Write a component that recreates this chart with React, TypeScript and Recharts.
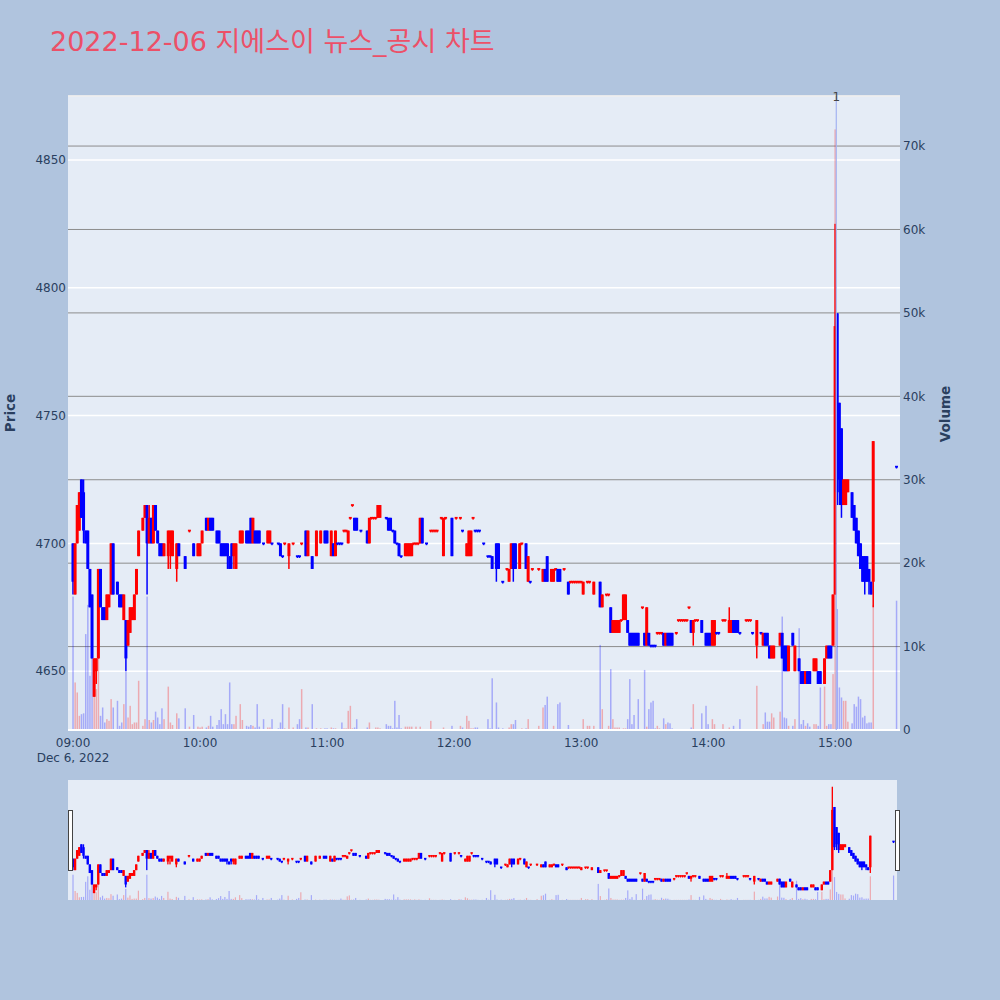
import React from "react";
import {
  ComposedChart,
  Bar,
  XAxis,
  YAxis,
  CartesianGrid,
  ReferenceLine,
} from "recharts";

// one row per traded minute: [minute after 09:00, open, high, low, close, volume]
type Row = [number, number, number, number, number, number];

const hour09: Row[] = [
  [0, 4700, 4700, 4680, 4685, 16000], [1, 4680, 4700, 4680, 4700, 5700],
  [2, 4700, 4715, 4700, 4715, 4500], [3, 4705, 4720, 4705, 4720, 1700],
  [4, 4725, 4725, 4710, 4710, 1900], [5, 4720, 4725, 4700, 4705, 2000],
  [6, 4705, 4705, 4700, 4700, 11500], [7, 4705, 4705, 4690, 4690, 15000],
  [8, 4690, 4690, 4675, 4675, 6500], [9, 4680, 4680, 4655, 4655, 11500],
  [10, 4640, 4655, 4640, 4655, 7000], [11, 4650, 4655, 4645, 4655, 4900],
  [12, 4655, 4690, 4655, 4690, 15500], [13, 4690, 4690, 4675, 4675, 1700],
  [14, 4675, 4675, 4670, 4670, 2700], [15, 4675, 4675, 4670, 4670, 900],
  [16, 4670, 4680, 4670, 4680, 1300], [17, 4675, 4680, 4675, 4680, 1100],
  [18, 4680, 4700, 4680, 4700, 3700], [19, 4700, 4700, 4680, 4680, 2700],
  [21, 4685, 4685, 4680, 4680, 3500], [22, 4680, 4680, 4675, 4675, 500],
  [23, 4680, 4680, 4675, 4675, 900], [24, 4670, 4680, 4670, 4680, 3100],
  [25, 4670, 4670, 4650, 4655, 7000], [26, 4660, 4670, 4660, 4670, 1500],
  [27, 4665, 4675, 4665, 4675, 2900], [28, 4670, 4675, 4670, 4675, 700],
  [29, 4670, 4680, 4670, 4680, 900], [30, 4680, 4690, 4680, 4690, 900],
  [31, 4695, 4705, 4695, 4705, 5900], [33, 4705, 4710, 4705, 4710, 500],
  [34, 4710, 4715, 4710, 4715, 1300], [35, 4715, 4715, 4680, 4700, 16000],
  [36, 4700, 4715, 4700, 4710, 1200], [37, 4710, 4710, 4700, 4700, 900],
  [38, 4700, 4715, 4700, 4715, 1200], [39, 4715, 4715, 4705, 4705, 2200],
  [40, 4705, 4705, 4700, 4700, 1500], [41, 4700, 4700, 4695, 4695, 700],
  [42, 4700, 4700, 4695, 4695, 2600], [43, 4695, 4700, 4695, 4700, 1300],
  [45, 4695, 4705, 4690, 4705, 5200], [46, 4700, 4705, 4690, 4705, 900],
  [47, 4695, 4705, 4695, 4705, 600], [49, 4690, 4700, 4685, 4700, 2000],
  [50, 4700, 4700, 4695, 4695, 1400], [53, 4695, 4695, 4690, 4690, 2600],
  [55, 4705, 4705, 4705, 4705, 400], [57, 4700, 4700, 4695, 4695, 1800],
  [59, 4695, 4700, 4695, 4700, 400],
];

const hour10: Row[] = [
  [60, 4695, 4700, 4695, 4700, 300], [61, 4700, 4705, 4700, 4705, 400],
  [63, 4710, 4710, 4705, 4705, 300], [64, 4705, 4710, 4705, 4710, 500],
  [65, 4710, 4710, 4705, 4705, 1700], [66, 4710, 4710, 4705, 4705, 400],
  [68, 4705, 4705, 4700, 4700, 600], [69, 4705, 4705, 4700, 4700, 1200],
  [70, 4700, 4700, 4695, 4695, 2500], [71, 4700, 4700, 4695, 4695, 700],
  [72, 4700, 4700, 4695, 4695, 1900], [73, 4700, 4700, 4690, 4695, 700],
  [74, 4695, 4695, 4690, 4690, 5700], [75, 4700, 4700, 4690, 4695, 700],
  [76, 4695, 4700, 4690, 4700, 700], [77, 4690, 4700, 4690, 4700, 1700],
  [79, 4700, 4705, 4700, 4705, 3100], [80, 4700, 4705, 4700, 4705, 1200],
  [82, 4705, 4705, 4700, 4700, 500], [83, 4705, 4705, 4700, 4700, 400],
  [84, 4710, 4710, 4700, 4700, 600], [85, 4700, 4710, 4700, 4710, 500],
  [86, 4705, 4705, 4700, 4700, 300], [87, 4705, 4705, 4700, 4700, 3100],
  [88, 4705, 4705, 4700, 4700, 400], [90, 4700, 4700, 4700, 4700, 1300],
  [92, 4700, 4705, 4700, 4705, 300], [93, 4700, 4705, 4700, 4705, 300],
  [94, 4700, 4700, 4700, 4700, 1300], [97, 4700, 4700, 4700, 4700, 200],
  [98, 4700, 4700, 4695, 4695, 900], [99, 4695, 4695, 4695, 4695, 3100],
  [100, 4700, 4700, 4700, 4700, 200], [102, 4695, 4700, 4690, 4700, 2700],
  [104, 4700, 4700, 4700, 4700, 300], [106, 4695, 4695, 4695, 4695, 700],
  [107, 4695, 4695, 4695, 4695, 1300], [108, 4700, 4700, 4700, 4700, 4900],
  [110, 4705, 4705, 4695, 4695, 300], [111, 4695, 4705, 4695, 4705, 300],
  [113, 4695, 4695, 4690, 4690, 3100], [115, 4695, 4705, 4695, 4705, 200],
  [117, 4700, 4705, 4700, 4705, 200], [119, 4705, 4705, 4700, 4700, 200],
];

const hour11: Row[] = [
  [120, 4705, 4705, 4700, 4700, 200], [122, 4695, 4705, 4695, 4705, 300],
  [123, 4700, 4700, 4695, 4695, 200], [124, 4695, 4705, 4695, 4705, 200],
  [125, 4700, 4700, 4700, 4700, 100], [126, 4700, 4700, 4700, 4700, 100],
  [127, 4700, 4700, 4700, 4700, 900], [128, 4705, 4705, 4705, 4705, 200],
  [129, 4705, 4705, 4705, 4705, 200], [130, 4700, 4705, 4700, 4705, 2300],
  [131, 4710, 4710, 4710, 4710, 2900], [132, 4715, 4715, 4715, 4715, 200],
  [133, 4710, 4710, 4705, 4705, 300], [134, 4710, 4710, 4705, 4705, 1300],
  [136, 4705, 4705, 4705, 4705, 100], [139, 4705, 4705, 4700, 4700, 300],
  [140, 4700, 4710, 4700, 4710, 900], [141, 4710, 4710, 4710, 4710, 100],
  [142, 4710, 4710, 4710, 4710, 100], [143, 4710, 4710, 4710, 4710, 300],
  [144, 4710, 4715, 4710, 4715, 300], [145, 4710, 4715, 4710, 4715, 200],
  [148, 4710, 4710, 4710, 4710, 700], [149, 4710, 4710, 4705, 4705, 500],
  [150, 4710, 4710, 4705, 4705, 500], [151, 4705, 4705, 4705, 4705, 200],
  [152, 4705, 4705, 4700, 4700, 3500], [153, 4700, 4700, 4700, 4700, 300],
  [154, 4700, 4700, 4695, 4695, 1800], [155, 4695, 4695, 4695, 4695, 200],
  [157, 4695, 4700, 4695, 4700, 400], [158, 4695, 4700, 4695, 4700, 400],
  [159, 4695, 4700, 4695, 4700, 400], [160, 4695, 4700, 4695, 4700, 400],
  [161, 4700, 4700, 4700, 4700, 100], [162, 4700, 4700, 4700, 4700, 400],
  [163, 4700, 4700, 4700, 4700, 100], [164, 4700, 4710, 4700, 4710, 400],
  [165, 4710, 4710, 4700, 4700, 100], [167, 4700, 4700, 4700, 4700, 100],
  [169, 4705, 4705, 4705, 4705, 1100], [170, 4705, 4705, 4705, 4705, 100],
  [171, 4705, 4705, 4705, 4705, 100], [172, 4705, 4705, 4705, 4705, 100],
  [174, 4710, 4710, 4710, 4710, 100], [175, 4695, 4710, 4695, 4710, 300],
  [176, 4710, 4710, 4710, 4710, 100], [179, 4710, 4710, 4695, 4695, 500],
];

const hour12: Row[] = [
  [181, 4710, 4710, 4710, 4710, 100], [183, 4710, 4710, 4710, 4710, 500],
  [184, 4705, 4705, 4705, 4705, 300], [186, 4695, 4700, 4695, 4700, 1700],
  [187, 4695, 4705, 4695, 4705, 1100], [188, 4695, 4705, 4695, 4705, 200],
  [189, 4710, 4710, 4710, 4710, 200], [190, 4705, 4705, 4705, 4705, 300],
  [191, 4705, 4705, 4705, 4705, 300], [192, 4705, 4705, 4705, 4705, 100],
  [194, 4700, 4700, 4700, 4700, 100], [196, 4695, 4695, 4695, 4695, 1300],
  [197, 4695, 4695, 4695, 4695, 200], [198, 4695, 4695, 4690, 4690, 6200],
  [200, 4700, 4700, 4685, 4690, 3300], [201, 4700, 4700, 4690, 4690, 300],
  [203, 4685, 4685, 4685, 4685, 200], [205, 4690, 4690, 4690, 4690, 100],
  [206, 4685, 4690, 4685, 4690, 300], [207, 4690, 4700, 4690, 4700, 700],
  [208, 4700, 4700, 4685, 4690, 700], [209, 4700, 4700, 4690, 4690, 1200],
  [211, 4690, 4700, 4690, 4700, 100], [212, 4700, 4700, 4700, 4700, 200],
  [214, 4700, 4700, 4690, 4690, 200], [215, 4685, 4695, 4685, 4695, 1300],
  [216, 4685, 4685, 4685, 4685, 100], [217, 4690, 4690, 4690, 4690, 100],
  [220, 4690, 4690, 4690, 4690, 500], [222, 4685, 4690, 4685, 4690, 2700],
  [223, 4690, 4690, 4685, 4685, 3000], [224, 4695, 4695, 4685, 4685, 4000],
  [226, 4685, 4690, 4685, 4690, 100], [227, 4685, 4690, 4685, 4690, 500],
  [228, 4690, 4690, 4690, 4690, 100], [229, 4690, 4690, 4685, 4685, 3100],
  [230, 4690, 4690, 4685, 4685, 3300], [232, 4690, 4690, 4690, 4690, 100],
  [234, 4685, 4685, 4680, 4680, 600], [235, 4685, 4685, 4685, 4685, 100],
  [236, 4685, 4685, 4685, 4685, 100], [237, 4685, 4685, 4685, 4685, 100],
  [238, 4685, 4685, 4685, 4685, 100], [239, 4685, 4685, 4685, 4685, 100],
];

const hour13: Row[] = [
  [240, 4685, 4685, 4685, 4685, 100], [241, 4680, 4685, 4680, 4685, 1300],
  [243, 4685, 4685, 4685, 4685, 500], [244, 4685, 4685, 4685, 4685, 500],
  [246, 4680, 4685, 4680, 4685, 500], [249, 4685, 4685, 4675, 4675, 10200],
  [250, 4675, 4680, 4675, 4680, 2500], [252, 4680, 4680, 4680, 4680, 100],
  [253, 4680, 4680, 4680, 4680, 500], [254, 4675, 4675, 4665, 4665, 7300],
  [255, 4665, 4670, 4665, 4670, 1300], [256, 4665, 4670, 4665, 4670, 300],
  [257, 4665, 4670, 4665, 4670, 300], [258, 4665, 4670, 4665, 4670, 300],
  [259, 4670, 4670, 4670, 4670, 100], [260, 4670, 4680, 4670, 4680, 200],
  [261, 4670, 4680, 4670, 4680, 200], [262, 4670, 4670, 4665, 4665, 1300],
  [263, 4665, 4665, 4660, 4660, 6100], [264, 4665, 4665, 4660, 4660, 700],
  [265, 4665, 4665, 4660, 4660, 1800], [266, 4665, 4665, 4660, 4660, 100],
  [267, 4665, 4665, 4660, 4660, 3700], [269, 4675, 4675, 4675, 4675, 100],
  [270, 4665, 4665, 4660, 4660, 7200], [271, 4660, 4675, 4660, 4675, 400],
  [272, 4665, 4665, 4660, 4660, 2500], [273, 4660, 4660, 4660, 4660, 3300],
  [274, 4660, 4660, 4660, 4660, 3500], [275, 4660, 4660, 4660, 4660, 200],
  [276, 4665, 4665, 4665, 4665, 500], [277, 4665, 4665, 4665, 4665, 200],
  [278, 4665, 4665, 4665, 4665, 100], [279, 4665, 4665, 4660, 4660, 1400],
  [280, 4660, 4665, 4660, 4665, 700], [281, 4665, 4665, 4660, 4660, 900],
  [282, 4665, 4665, 4660, 4660, 800], [283, 4665, 4665, 4660, 4660, 200],
  [285, 4665, 4665, 4665, 4665, 100], [286, 4670, 4670, 4670, 4670, 100],
  [287, 4670, 4670, 4670, 4670, 100], [288, 4670, 4670, 4670, 4670, 100],
  [289, 4670, 4670, 4670, 4670, 100], [290, 4670, 4670, 4670, 4670, 100],
  [291, 4675, 4675, 4675, 4675, 100], [292, 4670, 4670, 4665, 4665, 300],
  [293, 4665, 4670, 4660, 4670, 3100], [294, 4670, 4670, 4670, 4670, 100],
  [295, 4670, 4670, 4670, 4670, 100], [297, 4670, 4670, 4665, 4665, 2000],
  [299, 4665, 4665, 4660, 4660, 2900],
];

const hour14: Row[] = [
  [300, 4665, 4665, 4660, 4660, 700], [301, 4665, 4665, 4660, 4660, 100],
  [302, 4660, 4670, 4660, 4670, 1300], [303, 4660, 4670, 4660, 4670, 700],
  [304, 4665, 4665, 4665, 4665, 100], [305, 4665, 4665, 4665, 4665, 100],
  [307, 4670, 4670, 4670, 4670, 700], [308, 4670, 4670, 4670, 4670, 100],
  [310, 4665, 4675, 4665, 4670, 300], [311, 4665, 4670, 4665, 4670, 100],
  [312, 4670, 4670, 4665, 4665, 500], [313, 4670, 4670, 4665, 4665, 100],
  [314, 4670, 4670, 4665, 4665, 100], [315, 4665, 4665, 4665, 4665, 1300],
  [318, 4670, 4670, 4670, 4670, 100], [319, 4670, 4670, 4670, 4670, 100],
  [320, 4670, 4670, 4670, 4670, 100], [321, 4665, 4665, 4665, 4665, 100],
  [323, 4660, 4670, 4655, 4670, 5300], [325, 4665, 4665, 4665, 4665, 100],
  [326, 4660, 4665, 4660, 4665, 700], [327, 4665, 4665, 4660, 4660, 2100],
  [328, 4665, 4665, 4660, 4660, 1000], [329, 4660, 4660, 4655, 4655, 1000],
  [330, 4655, 4660, 4655, 4660, 2000], [331, 4655, 4660, 4655, 4660, 1500],
  [334, 4660, 4665, 4660, 4665, 2200], [335, 4665, 4665, 4655, 4655, 13600],
  [336, 4660, 4660, 4650, 4650, 1500], [337, 4660, 4660, 4650, 4650, 1400],
  [338, 4650, 4660, 4650, 4660, 500], [340, 4665, 4665, 4660, 4660, 500],
  [341, 4650, 4660, 4650, 4660, 1300], [343, 4655, 4655, 4650, 4650, 12200],
  [344, 4650, 4650, 4645, 4645, 700], [345, 4650, 4650, 4645, 4645, 1200],
  [346, 4645, 4650, 4645, 4650, 500], [347, 4650, 4650, 4645, 4645, 800],
  [348, 4650, 4650, 4645, 4645, 400], [350, 4650, 4655, 4650, 4655, 700],
  [351, 4650, 4655, 4650, 4655, 700], [352, 4650, 4650, 4645, 4645, 500],
  [353, 4650, 4650, 4645, 4645, 5100], [355, 4645, 4655, 4645, 4655, 5200],
  [356, 4655, 4660, 4655, 4660, 500], [357, 4660, 4660, 4655, 4655, 700],
  [358, 4660, 4660, 4655, 4655, 700], [359, 4660, 4680, 4660, 4680, 6700],
];

const hour15: Row[] = [
  [360, 4680, 4825, 4680, 4785, 72000], [361, 4790, 4790, 4715, 4720, 14500],
  [362, 4755, 4755, 4715, 4725, 5100], [363, 4745, 4745, 4710, 4715, 3900],
  [364, 4715, 4725, 4715, 4725, 3500], [365, 4715, 4725, 4715, 4725, 3500],
  [366, 4720, 4725, 4720, 4725, 1000], [368, 4720, 4720, 4710, 4710, 800],
  [369, 4715, 4715, 4705, 4705, 3100], [370, 4710, 4710, 4700, 4700, 2800],
  [371, 4705, 4705, 4695, 4695, 4000], [372, 4700, 4700, 4690, 4690, 3700],
  [373, 4695, 4695, 4685, 4685, 1500], [374, 4695, 4695, 4680, 4685, 1700],
  [375, 4695, 4695, 4685, 4685, 800], [376, 4690, 4690, 4680, 4685, 900],
  [377, 4685, 4685, 4680, 4680, 900], [378, 4685, 4740, 4675, 4740, 15000],
  [389, 4730, 4730, 4730, 4730, 15500],
];

const priceTicks = [4650, 4700, 4750, 4800, 4850];
const volumeTicks = [0, 10000, 20000, 30000, 40000, 50000, 60000, 70000];
const timeTicks = [0, 60, 120, 180, 240, 300, 360];
const timeLabels = ["09:00", "10:00", "11:00", "12:00", "13:00", "14:00", "15:00"];
const dateLabel = "Dec 6, 2022";
const newsTimes = [360.5];
const newsLabels = ["1"];
const title = "2022-12-06 지에스이 뉴스_공시 차트";

const X_DOMAIN: [number, number] = [-2.4, 390.6];
const UP = "#ff0000";
const DOWN = "#0000ff";
const TEXT = "#2a3f5f";
const FONT = '"DejaVu Sans", "Noto Sans CJK KR", sans-serif';

// plotly rule: equal open/close takes its colour from the previous close
const rows = (() => {
  let prevClose = 0;
  let prevUp = true;
  return [...hour09, ...hour10, ...hour11, ...hour12, ...hour13, ...hour14, ...hour15].map(
    ([m, o, h, l, c, v]) => {
      const up = c > o ? true : c < o ? false : c > prevClose ? true : c < prevClose ? false : prevUp;
      prevClose = c;
      prevUp = up;
      return { m, open: o, high: h, low: l, close: c, volume: v, range: [l, h], color: up ? UP : DOWN };
    }
  );
})();

const makeCandle = (bodyW: number, wickW: number, minH: number) => (props: any) => {
  const { x, y, width, height, payload } = props;
  if (x == null || y == null) return <g />;
  const cx = x + width / 2;
  const h = height || 0;
  const k = payload.high > payload.low ? h / (payload.high - payload.low) : 0;
  const top = y + (payload.high - Math.max(payload.open, payload.close)) * k;
  const bot = y + (payload.high - Math.min(payload.open, payload.close)) * k;
  const bh = Math.max(bot - top, minH);
  return (
    <g>
      <rect x={cx - wickW / 2} y={y} width={wickW} height={Math.max(h, minH)} fill={payload.color} />
      <rect x={cx - bodyW / 2} y={(top + bot) / 2 - bh / 2} width={bodyW} height={bh} fill={payload.color} />
    </g>
  );
};

const makeVolume = (w: number) => (props: any) => {
  const { x, y, width, height, payload } = props;
  if (!height || height <= 0) return <g />;
  return (
    <rect x={x + width / 2 - w / 2} y={y} width={w} height={height} fill={payload.color} fillOpacity={0.28} />
  );
};

const mainCandle = makeCandle(3, 1.5, 1.8);
const mainVolume = makeVolume(1.5);
const sliderCandle = makeCandle(2.4, 1.3, 1.6);
const sliderVolume = makeVolume(1.2);

const TimeTick = (props: any) => {
  const { x, y, payload } = props;
  const i = timeTicks.indexOf(payload.value);
  return (
    <g>
      <text x={x} y={y} dy="0.71em" textAnchor="middle" fill={TEXT} fontSize={12} fontFamily={FONT}>
        {timeLabels[i]}
      </text>
      {i === 0 && (
        <text x={x} y={y + 15} dy="0.71em" textAnchor="middle" fill={TEXT} fontSize={12} fontFamily={FONT}>
          {dateLabel}
        </text>
      )}
    </g>
  );
};

const fmtVol = (v: number) => (v === 0 ? "0" : `${v / 1000}k`);
const tickStyle = { fill: TEXT, fontSize: 12, fontFamily: FONT };

export default function App() {
  return (
    <div
      style={{
        position: "absolute",
        left: 0,
        top: 0,
        width: 1000,
        height: 1000,
        background: "#b0c4de",
        fontFamily: FONT,
        overflow: "hidden",
      }}
    >
      <div
        style={{
          position: "absolute",
          left: 50,
          top: 28,
          fontSize: 27,
          lineHeight: "27px",
          color: "#ec5068",
          whiteSpace: "nowrap",
        }}
      >
        {title}
      </div>
      <div
        style={{
          position: "absolute",
          left: 10,
          top: 413,
          transform: "translate(-50%, -50%) rotate(-90deg)",
          fontSize: 13.5,
          fontWeight: 700,
          color: TEXT,
        }}
      >
        Price
      </div>
      <div
        style={{
          position: "absolute",
          left: 945,
          top: 414,
          transform: "translate(-50%, -50%) rotate(-90deg)",
          fontSize: 13.5,
          fontWeight: 700,
          color: TEXT,
        }}
      >
        Volume
      </div>

      <div style={{ position: "absolute", left: 0, top: 0 }}>
        <ComposedChart width={1000} height={780} data={rows} margin={{ top: 96, right: 40, bottom: 20, left: 8 }}>
          <XAxis
            xAxisId="t"
            dataKey="m"
            type="number"
            domain={X_DOMAIN}
            ticks={timeTicks}
            interval={0}
            allowDataOverflow
            axisLine={false}
            tickLine={false}
            tickSize={0}
            tickMargin={8}
            height={30}
            tick={<TimeTick />}
          />
          <XAxis xAxisId="tv" dataKey="m" type="number" domain={X_DOMAIN} allowDataOverflow hide />
          <YAxis
            yAxisId="p"
            orientation="left"
            domain={[4627, 4875]}
            ticks={priceTicks}
            allowDataOverflow
            width={60}
            axisLine={false}
            tickLine={false}
            tickSize={0}
            tickMargin={2}
            tick={tickStyle}
          />
          <YAxis
            yAxisId="v"
            orientation="right"
            domain={[0, 76000]}
            ticks={volumeTicks}
            allowDataOverflow
            width={60}
            axisLine={false}
            tickLine={false}
            tickSize={0}
            tickMargin={3}
            tick={tickStyle}
            tickFormatter={fmtVol}
          />
          <CartesianGrid xAxisId="t" yAxisId="v" vertical={false} stroke="#8c8c8c" fill="#e5ecf6" />
          <CartesianGrid xAxisId="t" yAxisId="p" vertical={false} stroke="#ffffff" strokeWidth={1.5} />
          <ReferenceLine xAxisId="t" yAxisId="v" y={0} stroke="#ffffff" strokeWidth={2} />
          <Bar xAxisId="tv" yAxisId="v" dataKey="volume" barSize={2} shape={mainVolume} isAnimationActive={false} />
          <Bar xAxisId="t" yAxisId="p" dataKey="range" barSize={3} shape={mainCandle} isAnimationActive={false} />
          {newsTimes.map((t, i) => (
            <ReferenceLine
              key={i}
              xAxisId="t"
              yAxisId="p"
              x={t}
              stroke="#a3b3f2"
              strokeWidth={1.2}
              label={(p: any) => (
                <text
                  x={p.viewBox.x}
                  y={p.viewBox.y}
                  dy={5}
                  textAnchor="middle"
                  fill="#444"
                  fontSize={12}
                  fontFamily={FONT}
                >
                  {newsLabels[i]}
                </text>
              )}
            />
          ))}
        </ComposedChart>
      </div>

      <div style={{ position: "absolute", left: 68, top: 780, width: 829, height: 120, background: "#e5ecf6" }} />
      <div style={{ position: "absolute", left: 0, top: 780 }}>
        <ComposedChart width={1000} height={120} data={rows} margin={{ top: 0, right: 103, bottom: 0, left: 68 }}>
          <XAxis xAxisId="t" dataKey="m" type="number" domain={X_DOMAIN} allowDataOverflow hide />
          <XAxis xAxisId="tv" dataKey="m" type="number" domain={X_DOMAIN} allowDataOverflow hide />
          <YAxis yAxisId="p" domain={[4628, 4837]} allowDataOverflow hide />
          <YAxis yAxisId="v" domain={[0, 76000]} allowDataOverflow hide />
          <Bar xAxisId="tv" yAxisId="v" dataKey="volume" barSize={2} shape={sliderVolume} isAnimationActive={false} />
          <Bar xAxisId="t" yAxisId="p" dataKey="range" barSize={3} shape={sliderCandle} isAnimationActive={false} />
        </ComposedChart>
      </div>
      <div
        style={{
          position: "absolute",
          left: 68,
          top: 810,
          width: 3,
          height: 59,
          background: "#fff",
          border: "1px solid #444",
        }}
      />
      <div
        style={{
          position: "absolute",
          left: 895,
          top: 810,
          width: 3,
          height: 59,
          background: "#fff",
          border: "1px solid #444",
        }}
      />
    </div>
  );
}
